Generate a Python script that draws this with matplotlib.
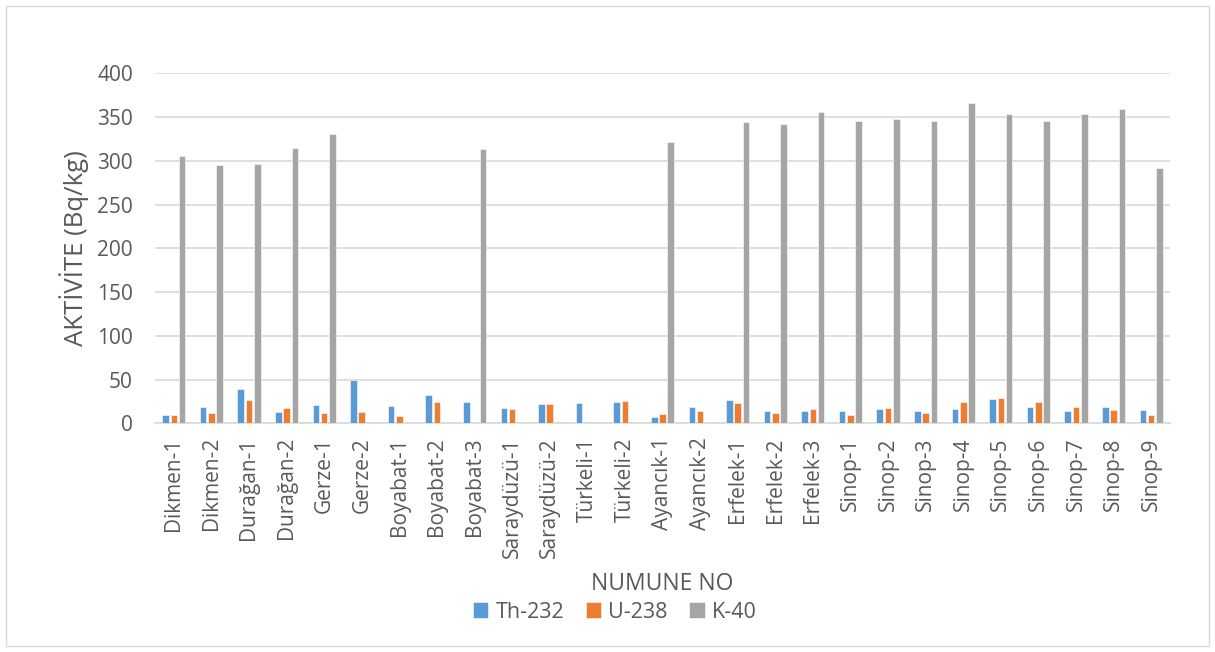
import matplotlib.pyplot as plt
import numpy as np

# Numune isimleri ve aktivite değerleri (Bq/kg)
numuneler = ['Dikmen-1', 'Dikmen-2', 'Durağan-1', 'Durağan-2', 'Gerze-1', 'Gerze-2',
             'Boyabat-1', 'Boyabat-2', 'Boyabat-3', 'Saraydüzü-1', 'Saraydüzü-2',
             'Türkeli-1', 'Türkeli-2', 'Ayancık-1', 'Ayancık-2', 'Erfelek-1',
             'Erfelek-2', 'Erfelek-3', 'Sinop-1', 'Sinop-2', 'Sinop-3', 'Sinop-4',
             'Sinop-5', 'Sinop-6', 'Sinop-7', 'Sinop-8', 'Sinop-9']
th232 = [9, 18.5, 39, 13, 20.5, 49.6, 19.5, 32, 24.5, 17, 22.5, 23, 24.5, 7.5, 18.5,
         26.5, 14, 14.5, 13.5, 16.5, 14.5, 16.5, 28, 18.3, 14.3, 18.3, 15.5]
u238 = [9.8, 11.8, 26.5, 17.5, 11.3, 12.8, 8.7, 24.3, 0, 16.3, 22.3, 0, 25.8, 10.9, 14.3,
        23.5, 12, 16.6, 9.8, 17.8, 12, 24.6, 29.2, 24.6, 19, 15.1, 9]
k40 = [306, 295, 296, 315, 331, 0, 0, 0, 313, 0, 0, 0, 0, 321, 0, 344, 342, 356,
       346, 348, 345, 366, 354, 346, 353, 359, 292]

renkler = ['#5B9BD5', '#ED7D31', '#A5A5A5']
gri = '#595959'

plt.rcParams['font.family'] = ['Open Sans', 'DejaVu Sans']

fig = plt.figure(figsize=(12.15, 6.52), dpi=100)
ax = fig.add_axes([155 / 1215, 1 - 423.3 / 652, 1015 / 1215, 350 / 652])

x = np.arange(len(numuneler))
w = 0.175
step = 0.22
for i, (seri, ad) in enumerate([(th232, 'Th-232'), (u238, 'U-238'), (k40, 'K-40')]):
    ax.bar(x + (i - 1) * step, seri, width=w, color=renkler[i], label=ad,
           edgecolor='white', linewidth=0.4, zorder=3)

ax.set_xlim(-0.5, len(numuneler) - 0.5)
ax.set_ylim(0, 400)
ax.set_yticks(range(0, 401, 50))
ax.grid(axis='y', color='#D9D9D9', linewidth=1.2, zorder=0)
for s in ['top', 'right', 'left']:
    ax.spines[s].set_visible(False)
ax.spines['bottom'].set_color('#D9D9D9')
ax.spines['bottom'].set_linewidth(1.2)
ax.tick_params(axis='both', length=0, colors=gri, labelsize=15)
ax.set_xticks(x)
ax.set_xticklabels(numuneler, rotation=90)
ax.tick_params(axis='x', pad=10)
ax.tick_params(axis='y', pad=16)
ax.set_ylabel('AKTİVİTE (Bq/kg)', color=gri, fontsize=18.5, labelpad=6)

fig.text(662 / 1215, 1 - 584 / 652, 'NUMUNE NO', color=gri, fontsize=16.5,
         ha='center', va='center')
fig.legend(loc='center', bbox_to_anchor=(615 / 1215, 1 - 612 / 652), ncol=3,
           frameon=False, fontsize=15.5, labelcolor=gri, handlelength=0.7,
           handleheight=0.7, handletextpad=0.35, columnspacing=1.0)

# çerçeve
fig.patches.append(plt.Rectangle((6 / 1215, 6 / 652), 1203 / 1215, 640 / 652,
                                 transform=fig.transFigure, fill=False,
                                 edgecolor='#D9D9D9', linewidth=1))

fig.savefig('out.png', dpi=100)
